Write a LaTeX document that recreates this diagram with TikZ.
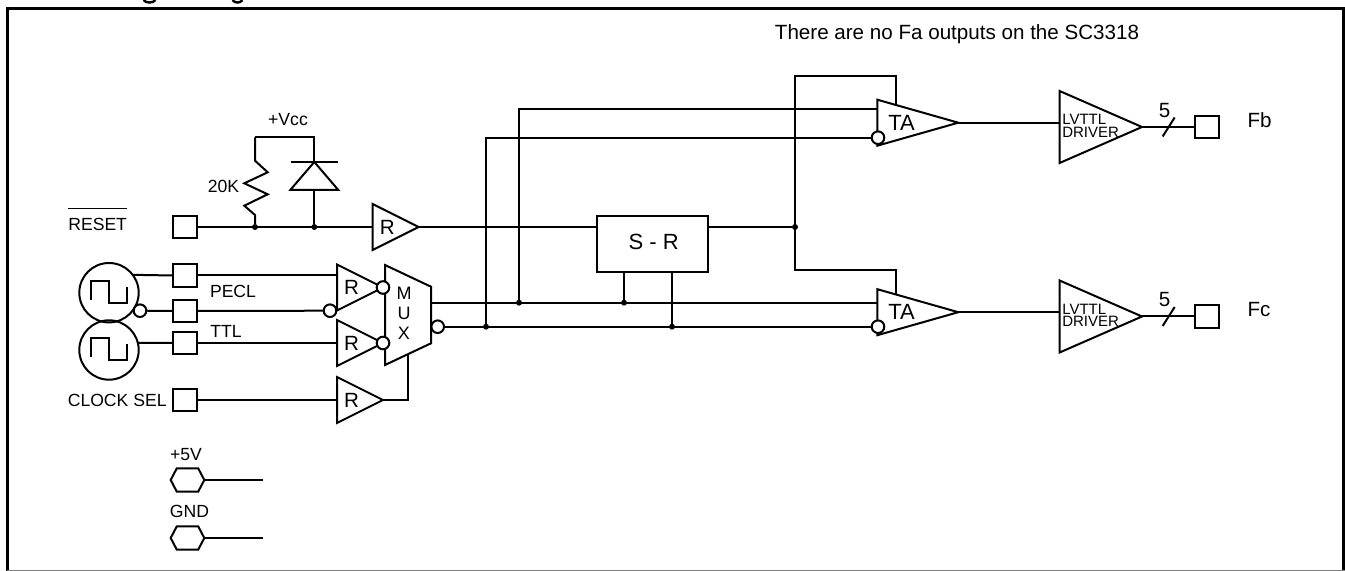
\documentclass[tikz,border=0pt]{standalone}
\usepackage{fontspec}
\setmainfont{Liberation Sans}
\usetikzlibrary{calc,positioning,shapes.geometric,shapes.symbols}

\begin{document}
\begin{tikzpicture}[x=.5pt,y=-.5pt,line width=1pt,line join=miter]
\tikzset{
every node/.style = {inner sep=0pt, outer sep=0pt},
pad/.style = {draw, rectangle, minimum width=12pt, minimum height=11.25pt},
recv/.style = {draw, isosceles triangle, isosceles triangle stretches, minimum width=23pt, minimum height=23pt},
ampl/.style = {draw, isosceles triangle, isosceles triangle stretches, minimum width=23pt, minimum height=40.5pt},
driver/.style = {draw, isosceles triangle, isosceles triangle stretches, minimum width=36pt, minimum height=41.2pt},
bubble/.style = {draw, circle, fill=white, minimum size=6.3pt},
osc/.style = {draw, circle, minimum size=29.7pt},
dot/.style = {circle, fill=black, minimum size=3pt},
rail/.style = {draw, signal, signal to=east and west, signal pointer angle=125, minimum width=16.8pt, minimum height=11.7pt},
lab/.style = {font=\fontsize{8.8}{10}\selectfont},
tag/.style = {font=\fontsize{10.3}{12}\selectfont},
bigtag/.style = {font=\fontsize{11}{12}\selectfont},
drvtext/.style = {font=\fontsize{7.5}{6.35}\selectfont, align=left}
}
\useasboundingbox (0,0) rectangle (1345,571);

% frame
\draw [line width=1.5pt] (7.5,571) -- (7.5,8.5) -- (1345,8.5);
\draw [line width=1.5pt] (1343.8,8.5) -- (1343.8,571);
\draw [gray, line width=.5pt] (7,570.3) -- (1345,570.3);
\draw [line width=1.2pt] (143.5,0) .. controls (146,3.4) and (153,3.4) .. (155.5,0);
\draw [line width=1.2pt] (232.5,0) .. controls (235,3.4) and (240,3.4) .. (242.5,0);

% left column
\node [pad] (resetpad) at (185,227) {};
\node [pad, below = 13pt of resetpad] (peclpad) {};
\node [pad, below = 6.5pt of peclpad] (peclnpad) {};
\node [pad, below = 4.75pt of peclnpad] (ttlpad) {};
\node [pad, below = 17.25pt of ttlpad] (selpad) {};
\node [osc] (oscpecl) at (109,292.7) {};
\node [osc] (oscttl) at (109,350) {};
\node [bubble] (oscn) at (140,310.7) {};
\foreach \osc in {oscpecl,oscttl}
  \draw ($(\osc)+(-18.3,7.3)$) -- ++(0,-19.3) -- ++(18.3,0) -- ++(0,22.3) -- ++(17.7,0) -- ++(0,-16.3);

% receivers
\node [recv, right = 87.85pt of resetpad] (rreset) {};
\node [recv, right = 70pt of peclpad, yshift=-6pt] (rpecl) {};
\node [recv, right = 70pt of ttlpad] (rttl) {};
\node [recv, right = 70pt of selpad] (rsel) {};
\node [tag, right = 3.6pt of rreset.lower side] (rresettag) {R};
\node [tag, right = 3.6pt of rpecl.lower side] (rpecltag) {R};
\node [tag, right = 3.6pt of rttl.lower side] (rttltag) {R};
\node [tag, right = 3.6pt of rsel.lower side] (rseltag) {R};
\node [minimum width=23pt, minimum height=50pt] (mux) at (408,315) {};
\draw (mux.north west) -- ($(mux.north east)+(0,21.7)$) -- ($(mux.south east)+(0,-21.7)$) -- (mux.south west) -- cycle;
\coordinate (muxsel) at ($(mux.south)+(0,-10.85)$);
\node [font=\fontsize{9}{10}\selectfont, align=center] (muxtag) at ($(mux.center)+(-4,-2)$) {M\\U\\X};
\node [bubble] (rpeclq) at (rpecl.apex) {};
\node [bubble] (rttlq) at (rttl.apex) {};
\node [bubble] (rpecln) at (330,310.7) {};
\node [bubble] (muxn) at (437.7,326.7) {};

% pull up
\node [dot] (resjoin) at (255,227) {};
\node [dot] (diodejoin) at (314.3,227) {};
\node [draw, isosceles triangle, isosceles triangle stretches, shape border rotate=90, minimum width=23.8pt, minimum height=13.9pt] (diode) at (314.3,178.8) {};
\coordinate (vccr) at (255,137.3);
\coordinate (vccd) at (314.3,137.3);

% middle and outputs
\node [draw, rectangle, minimum width=55.3pt, minimum height=28.2pt, right = 89.35pt of rreset, yshift=-8.4pt] (sr) {};
\node [bigtag] (srtag) at ($(sr)+(1,-2)$) {S - R};
\node [dot] (srjoin) at (795,227) {};
\node [dot] (sjoin) at (624,302.7) {};
\node [dot] (rjoin) at (672,326.7) {};
\node [dot] (ajoin) at (519,302.7) {};
\node [dot] (bjoin) at (486,326.7) {};
\node [ampl, anchor=lower side] (ta1) at (877.3,122.7) {};
\node [ampl, anchor=lower side] (ta2) at (877.3,312.2) {};
\node [bigtag, right = 5.5pt of ta1.lower side] (ta1tag) {TA};
\node [bigtag, right = 5.5pt of ta2.lower side] (ta2tag) {TA};
\node [bubble] (ta1n) at (878,137.7) {};
\node [bubble] (ta2n) at (878,326.7) {};
\node [driver, right = 50.65pt of ta1, yshift=-2.15pt] (drv1) {};
\node [driver, right = 50.65pt of ta2, yshift=-2.15pt] (drv2) {};
\node [drvtext, right = 1.35pt of drv1.lower side, yshift=.6pt] (drv1tag) {LVTTL\\DRIVER};
\node [drvtext, right = 1.35pt of drv2.lower side, yshift=.6pt] (drv2tag) {LVTTL\\DRIVER};
\node [pad, right = 26.65pt of drv1] (fbpad) {};
\node [pad, right = 26.65pt of drv2] (fcpad) {};
\node [tag, right = 14.15pt of fbpad, yshift=3.5pt] (fb) {Fb};
\node [tag, right = 14.15pt of fcpad, yshift=3.5pt] (fc) {Fc};
\coordinate (fbbus) at ($(drv1.apex)!.5!(fbpad.west)$);
\coordinate (fcbus) at ($(drv2.apex)!.5!(fcpad.west)$);
\node [tag] (fbcount) at ($(fbbus)+(-4,-16)$) {5};
\node [tag] (fccount) at ($(fcbus)+(-4,-16.5)$) {5};

% supplies
\node [rail] (railv) at (187.5,480) {};
\node [rail] (railg) at (187.5,538) {};
\coordinate (railvend) at (263.3,480);
\coordinate (railgend) at (263.3,538);

% labels
\node [tag] (notelabel) at (957,34) {There are no Fa outputs on the SC3318};
\node [lab] (vcclabel) at (288,120) {+Vcc};
\node [lab] (reslabel) at (223.5,186) {20K};
\node [lab, left = 23pt of resetpad, yshift=4pt] (resetlabel) {$\overline{\rule{0pt}{9.6pt}\mbox{RESET}}$};
\node [lab] (pecllabel) at (233,291) {PECL};
\node [lab] (ttllabel) at (226,331) {TTL};
\node [lab, left = 3.2pt of selpad] (sellabel) {CLOCK SEL};
\node [lab] (vlabel) at (186,455) {+5V};
\node [lab] (gndlabel) at (189.5,511.7) {GND};

\draw (resetpad) -- (rreset.lower side);
\draw (oscpecl.37) -- (peclpad.west);
\draw (oscn) -- (peclnpad);
\draw (oscttl.14) -- (ttlpad.west);
\draw (peclpad) -- (rpecl.lower side|-peclpad);
\draw (peclnpad) -- (rpecln);
\draw (ttlpad) -- (rttl.lower side|-ttlpad);
\draw (selpad) -- (rsel.lower side|-selpad);
\draw (rsel.apex) -| (muxsel);

\draw (vccr) -- (vccd) -- (diode.apex);
\draw (diode.left corner|-diode.apex) -- (diode.right corner|-diode.apex);
\draw (diode.lower side) -- (diodejoin);
\draw (vccr) -- ++(0,23.4) -- ++(12.7,11.6) -- ++(-23.4,11) -- ++(23.4,11) -- ++(-23.4,11.4) -- ++(10.7,9.3) -- (resjoin);

\draw (rreset.apex) -- (sr.west|-rreset.apex);
\draw (sr.east|-srjoin) -- (srjoin);
\draw (sr.south-|sjoin) -- (sjoin);
\draw (sr.south-|rjoin) -- (rjoin);
\draw (mux.east|-sjoin) -- (ta2.lower side|-sjoin);
\draw (muxn) -- (ta2n);
\draw (ajoin) |- (ta1.lower side|-0,108.7);
\draw (bjoin) |- (ta1n);

\coordinate (ta1top) at ($(ta1.left corner)!.227!(ta1.apex)$);
\coordinate (ta2top) at ($(ta2.left corner)!.227!(ta2.apex)$);
\draw (ta1top) |- (srjoin|-0,75.7) -- (srjoin|-0,270) -| (ta2top);

\draw (ta1.apex) -- (drv1.lower side|-ta1.apex);
\draw (ta2.apex) -- (drv2.lower side|-ta2.apex);
\draw (drv1.apex) -- (fbpad);
\draw (drv2.apex) -- (fcpad);
\draw ($(fbbus)+(-6,9.5)$) -- ($(fbbus)+(6,-9.5)$);
\draw ($(fcbus)+(-6,9.5)$) -- ($(fcbus)+(6,-9.5)$);

\draw (railv) -- (railvend);
\draw (railg) -- (railgend);
\end{tikzpicture}
\end{document}
